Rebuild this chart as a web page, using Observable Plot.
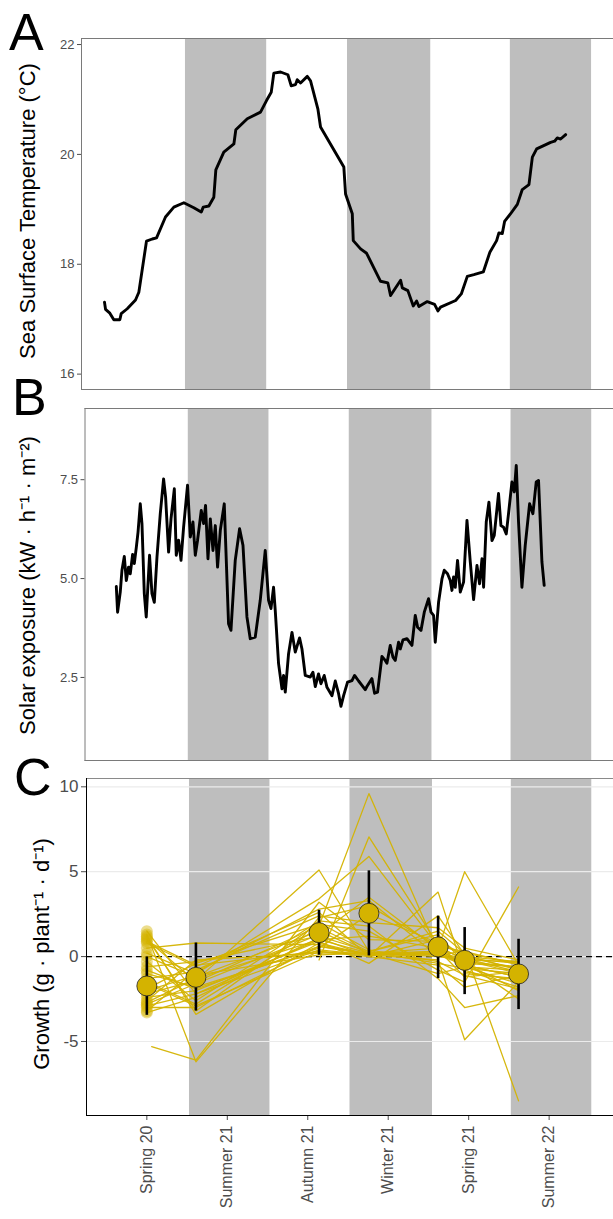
<!DOCTYPE html>
<html>
<head>
<meta charset="utf-8">
<script src="https://cdn.jsdelivr.net/npm/d3@7"></script>
<script src="https://cdn.jsdelivr.net/npm/@observablehq/plot@0.6"></script>
<style>
  html, body { margin: 0; padding: 0; background: #fff; }
  body { position: relative; width: 613px; height: 1219px; overflow: hidden;
         font-family: "Liberation Sans", Arial, sans-serif; }
  .panel { position: absolute; left: 0; }
  .tag { position: absolute; font-size: 52px; line-height: 52px; color: #000; z-index: 5; }
</style>
</head>
<body>
<div id="pA" class="panel" style="top:0px"></div>
<div id="pB" class="panel" style="top:390px"></div>
<div id="pC" class="panel" style="top:763px"></div>
<div class="tag" style="left:9px;top:6px">A</div>
<div class="tag" style="left:12px;top:371px">B</div>
<div class="tag" style="left:14px;top:751px">C</div>
<script>
// ---------- data (x in season units: 0 = Spring 20, 1 = Summer 21, ...) ----------
const seasonLabels = ["Spring 20", "Summer 21", "Autumn 21", "Winter 21", "Spring 21", "Summer 22"];
const bandStart = [0.53, 2.525, 4.53];
const bandEnd   = [1.53, 3.55, 5.53];

// Panel A: sea surface temperature
const sstT = [-0.467,-0.454,-0.401,-0.352,-0.278,-0.261,-0.187,-0.085,-0.044,0.050,0.121,0.174,0.284,0.387,0.510,0.633,0.724,0.749,0.818,0.879,0.904,1.002,1.126,1.150,1.291,1.454,1.528,1.586,1.618,1.701,1.791,1.832,1.885,1.906,1.947,2.030,2.070,2.160,2.193,2.480,2.501,2.584,2.596,2.686,2.760,2.932,3.022,3.055,3.179,3.200,3.268,3.335,3.376,3.404,3.507,3.597,3.638,3.671,3.856,3.926,4.000,4.081,4.197,4.278,4.361,4.389,4.431,4.459,4.533,4.616,4.677,4.759,4.801,4.854,5.026,5.075,5.108,5.149,5.211];
const sstV = [17.31,17.18,17.11,16.99,16.99,17.10,17.19,17.35,17.49,18.42,18.46,18.48,18.86,19.04,19.12,19.03,18.95,19.04,19.06,19.22,19.72,20.04,20.19,20.45,20.65,20.77,20.98,21.13,21.48,21.50,21.45,21.25,21.27,21.36,21.30,21.42,21.34,20.83,20.50,19.77,19.28,18.92,18.43,18.28,18.20,17.69,17.66,17.43,17.71,17.57,17.52,17.24,17.33,17.23,17.32,17.27,17.15,17.22,17.34,17.46,17.78,17.81,17.86,18.22,18.43,18.57,18.56,18.78,18.92,19.09,19.36,19.45,19.95,20.10,20.22,20.24,20.30,20.28,20.36];

// Panel B: solar exposure
const solarT = [-0.362,-0.346,-0.313,-0.292,-0.263,-0.238,-0.210,-0.189,-0.160,-0.139,-0.114,-0.093,-0.065,-0.044,-0.015,0.009,0.050,0.080,0.109,0.142,0.183,0.224,0.249,0.286,0.316,0.357,0.381,0.410,0.440,0.472,0.521,0.555,0.588,0.617,0.645,0.691,0.720,0.744,0.774,0.803,0.836,0.865,0.893,0.927,0.976,1.029,1.059,1.112,1.166,1.208,1.257,1.298,1.360,1.422,1.484,1.525,1.555,1.587,1.608,1.649,1.691,1.711,1.732,1.773,1.815,1.856,1.909,1.939,1.980,2.042,2.075,2.104,2.144,2.174,2.215,2.249,2.311,2.352,2.393,2.422,2.455,2.504,2.559,2.591,2.641,2.683,2.723,2.744,2.806,2.839,2.876,2.930,2.971,2.992,3.033,3.067,3.095,3.136,3.157,3.191,3.240,3.302,3.343,3.372,3.414,3.455,3.508,3.538,3.570,3.591,3.632,3.674,3.702,3.743,3.777,3.798,3.818,3.839,3.867,3.901,3.942,3.984,4.025,4.066,4.108,4.140,4.170,4.190,4.223,4.256,4.294,4.322,4.375,4.405,4.437,4.471,4.499,4.541,4.570,4.595,4.623,4.665,4.706,4.760,4.801,4.842,4.871,4.913,4.941];
const solarV = [4.80,4.15,4.66,5.21,5.56,4.95,5.29,5.12,5.61,5.38,5.79,6.17,6.89,6.39,4.62,4.03,5.59,4.62,4.40,5.54,6.64,7.52,7.06,5.67,6.51,7.27,5.59,5.97,5.46,6.30,7.36,6.05,6.43,5.59,5.97,6.72,6.39,6.85,5.50,6.51,5.71,6.34,5.29,6.22,6.89,3.86,3.69,5.46,6.26,5.84,4.03,3.48,3.52,4.45,5.71,4.45,4.24,4.78,4.19,2.85,2.21,2.55,2.13,3.10,3.64,3.14,3.50,3.22,2.55,2.51,2.63,2.27,2.59,2.34,2.55,2.25,2.04,2.41,2.09,1.77,2.04,2.38,2.42,2.55,2.41,2.30,2.19,2.27,2.47,2.10,2.13,3.03,2.93,2.86,3.31,3.01,2.93,3.39,3.22,3.45,3.48,3.31,4.07,3.77,3.69,4.15,4.49,4.15,4.07,3.39,4.40,4.99,5.21,5.12,4.95,4.70,5.04,4.78,5.46,4.66,4.91,6.47,5.42,4.47,5.33,4.87,5.50,4.78,6.43,6.93,5.96,6.09,7.15,6.34,6.30,6.13,6.64,7.44,7.19,7.86,6.43,4.78,5.84,6.89,6.64,7.44,7.48,5.42,4.83];

// Panel C: growth — sampling times, per-plant values, and summary (mean, lower, upper)
const sampleT = [0, 0.61, 2.14, 2.76, 3.62, 3.95, 4.62];
const plantGrowth = [
  [ 1.5, -2.2, 1.0, 0.2,  0.3, -0.3, -0.6],
  [ 1.3, -6.2, 2.3, 3.0,  0.6, -0.2, -1.0],
  [ 1.2, -3.4, 0.8, 0.1,  0.2, -0.1, -0.4],
  [ 1.0, -1.5, 1.8, 9.6,  0.3, -0.5, -1.2],
  [ 0.8, -0.6, 2.6, 0.0,  1.0,  0.0, -0.3],
  [ 0.5,  0.8, 0.7, 0.1, -0.2, -4.9, -1.5],
  [ 0.2, -1.0, 3.4, 5.9,  0.6,  0.3, -0.5],
  [ 0.0, -1.2, 1.5, 0.2,  0.5,  5.0, -0.5],
  [-0.3, -2.6, 2.1, 1.8, -1.3, -3.0, -2.3],
  [-0.6, -0.3, 1.2, 0.3,  1.5,  0.2, -0.4],
  [-1.0, -1.8, 0.5, 2.5,  0.8, -0.8, -1.8],
  [-1.3, -0.9, 2.8, 3.3,  0.0,  0.4, -8.5],
  [-1.6, -2.9, 0.3, 0.0,  3.8, -1.0, -1.3],
  [-1.9, -0.4, 1.9, 1.5, -0.8, -1.5,  4.1],
  [-2.2, -1.4, 5.1, 0.3,  1.3, -0.4, -2.0],
  [-2.4, -2.0, 0.9, -0.4, 2.4,  0.1, -0.8],
  [-2.6, -0.2, 0.2, 0.2, -1.0, -0.6, -1.6],
  [-2.8, -1.6, 1.3, 3.5,  0.4, -1.2, -0.9],
  [-3.0, -3.0, 0.6, 0.1,  0.1, -0.3, -2.5],
  [-3.2, -0.8, 2.4, 2.0,  1.7,  0.5, -0.2],
  [-3.3, -2.4, 1.1, 0.0, -0.5, -1.8, -1.1],
  [null, -6.1, 3.2, 1.0,  0.9,  0.0, -0.7],
  [null, null, -0.2, 7.05, 0.7, -0.9, -1.4],
  [-2.0, -1.1, 0.1, 0.2,  0.0, -0.2, -0.3],
  [-1.5, -2.8, 1.7, 0.3, -0.4, -0.7, -1.0],
  [ 0.9, -0.5, 0.3, 0.1,  0.2, -0.4, -0.6],
  [-0.8, -1.9, 0.6, 0.2,  0.1, -0.5, -1.2],
  [-2.7, -1.3, 1.0, 1.2,  0.5, -0.1, -0.9],
  [ 1.1, -3.2, 2.0, 0.4, -0.3, -1.1, -1.9],
  [-2.9, -2.2, 0.4, 0.1,  0.3, -0.6, -0.8]
];
// a plant first measured just after the Spring 20 survey
const lateStartT = [0.06];
const lateStartV = [-5.3];
const lateStartPlant = [21];

const growthMean  = [-1.73, -1.22, 1.41, 2.55, 0.57, -0.22, -1.02];
const growthLower = [-3.46, -3.21, 0.08, 0.04, -1.30, -2.24, -3.12];
const growthUpper = [-0.02,  0.80, 2.73, 5.05,  2.38,  1.71,  1.02];

// ---------- build ----------
const FONT = '"Liberation Sans", Arial, sans-serif';
const X_DOMAIN = [-0.75, 5.80];
const YELLOW = "#D4B300";
const bands = bandStart.map((s, i) => ({x1: s, x2: bandEnd[i]}));

function seriesPanel(el, {ts, vs, yDomain, yTicks, yFmt, title, height, mt, mb, ml, titleX, titleDy}) {
  const rows = ts.slice(0, Math.min(ts.length, vs.length)).map((t, i) => ({t, v: vs[i]}));
  const chart = Plot.plot({
    width: 613, height,
    marginLeft: ml, marginRight: 0, marginTop: mt, marginBottom: mb,
    style: {fontFamily: FONT, background: "white", overflow: "visible"},
    x: {domain: X_DOMAIN, axis: null},
    y: {domain: yDomain, axis: null},
    marks: [
      Plot.rect(bands, {x1: "x1", x2: "x2", fill: "#BEBEBE"}),
      Plot.line(rows, {x: "t", y: "v", stroke: "black", strokeWidth: 2.9, strokeLinejoin: "round", curve: "linear"}),
      Plot.axisY({ticks: yTicks, tickFormat: yFmt, tickSize: 4, tickPadding: 3, fontSize: 13, color: "#4d4d4d", label: null}),
      Plot.frame({anchor: "top", stroke: "#7a7a7a"}),
      Plot.frame({anchor: "left", stroke: "#7a7a7a"}),
      Plot.frame({anchor: "bottom", stroke: "#7a7a7a"}),
      Plot.text([title], {frameAnchor: "left", rotate: -90, dx: titleX - ml, dy: titleDy, textAnchor: "middle", lineAnchor: "bottom", fontSize: 22, fill: "black"})
    ]
  });
  el.appendChild(chart);
}

seriesPanel(document.getElementById("pA"), {
  ts: sstT, vs: sstV, yDomain: [15.72, 22.11], yTicks: [16, 18, 20, 22], yFmt: d => String(d),
  title: "Sea Surface Temperature (°C)", height: 390, mt: 38, mb: 1, ml: 81, titleX: 34.5, titleDy: -3
});
seriesPanel(document.getElementById("pB"), {
  ts: solarT, vs: solarV, yDomain: [0.40, 9.30], yTicks: [2.5, 5.0, 7.5], yFmt: d => d.toFixed(1),
  title: "Solar exposure (kW · h⁻¹ · m⁻²)", height: 373, mt: 18, mb: 3, ml: 84.5, titleX: 34.5, titleDy: 1
});

// Panel C
const lines = [];
const firstPoints = [];
lateStartT.forEach((t, i) => lines.push({plant: lateStartPlant[i], t, v: lateStartV[i]}));
plantGrowth.forEach((vals, p) => {
  vals.forEach((v, i) => {
    if (v === null) return;
    lines.push({plant: p, t: sampleT[i], v});
    if (i === 0) firstPoints.push({t: sampleT[0], v});
  });
});
lines.sort((a, b) => a.plant - b.plant || a.t - b.t);
const summary = sampleT.map((t, i) => ({t, m: growthMean[i], lo: growthLower[i], hi: growthUpper[i]}));

const chartC = Plot.plot({
  width: 613, height: 456,
  marginLeft: 86, marginRight: 0, marginTop: 15, marginBottom: 104,
  style: {fontFamily: FONT, background: "white", overflow: "visible"},
  x: {domain: X_DOMAIN, axis: null},
  y: {domain: [-9.36, 10.49], axis: null},
  marks: [
    Plot.rect(bands, {x1: "x1", x2: "x2", fill: "#BEBEBE"}),
    Plot.gridY([-5, 0, 5, 10], {stroke: "#EBEBEB", strokeOpacity: 1, strokeWidth: 1.2}),
    Plot.ruleY([0], {stroke: "black", strokeWidth: 1.4, strokeDasharray: "6,4"}),
    Plot.dot(firstPoints, {x: "t", y: "v", r: 6, fill: YELLOW, fillOpacity: 0.45, stroke: null}),
    Plot.line(lines, {x: "t", y: "v", z: "plant", stroke: YELLOW, strokeWidth: 1.3, strokeOpacity: 0.95}),
    Plot.ruleX(summary, {x: "t", y1: "lo", y2: "hi", stroke: "black", strokeWidth: 2.6}),
    Plot.dot(summary, {x: "t", y: "m", r: 10, fill: YELLOW, stroke: "#222", strokeWidth: 0.8}),
    Plot.axisY({ticks: [-5, 0, 5, 10], tickFormat: d => String(d), tickSize: 5, tickPadding: 3, fontSize: 17, color: "#4d4d4d", label: null}),
    Plot.axisX({ticks: [0, 1, 2, 3, 4, 5], tickFormat: i => seasonLabels[i], tickRotate: -90, tickSize: 5, tickPadding: 5, fontSize: 16, color: "#4d4d4d", label: null}),
    Plot.frame({anchor: "top", stroke: "#8a8a8a"}),
    Plot.frame({anchor: "left", stroke: "black"}),
    Plot.frame({anchor: "bottom", stroke: "black"}),
    Plot.text(["Growth (g · plant⁻¹ · d⁻¹)"], {frameAnchor: "left", rotate: -90, dx: 48.2 - 86, dy: 7, textAnchor: "middle", lineAnchor: "bottom", fontSize: 22, fill: "black"})
  ]
});
document.getElementById("pC").appendChild(chartC);
</script>
</body>
</html>
